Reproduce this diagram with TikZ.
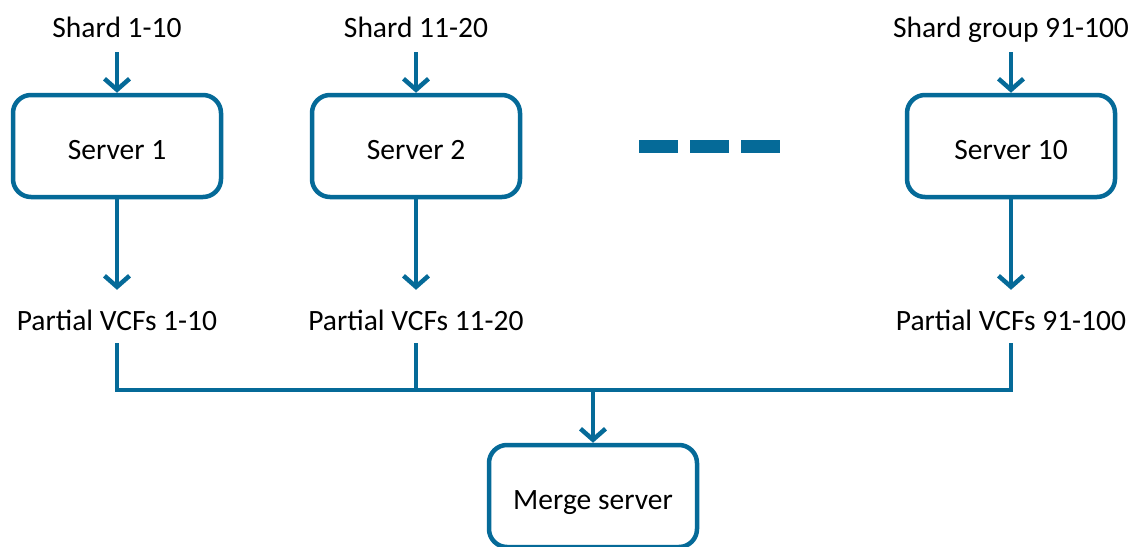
\documentclass[tikz,border=0pt]{standalone}
\usepackage{fontspec}
\setmainfont{Carlito}
\usetikzlibrary{arrows.meta}
\definecolor{bl}{RGB}{5,106,152}
\begin{document}
\begin{tikzpicture}[x=1pt,y=-1pt,
  box/.style={draw=bl, line width=4.5pt, rounded corners=18pt, minimum width=208pt, minimum height=102pt, inner sep=0pt, text height=27pt, text depth=0pt, font=\fontsize{29.5}{35}\selectfont},
  lbl/.style={inner sep=0pt, anchor=base, text height=22pt, text depth=7pt, font=\fontsize{29.5}{35}\selectfont},
  wire/.style={draw=bl, line width=4.5pt, line join=miter},
  conn/.style={wire, -{Straight Barb[length=11pt,width=25pt,line width=4.5pt]}}
]
\useasboundingbox (0,0) rectangle (1132,546);
% top labels
\node[lbl] (s1) at (117,37) {Shard 1-10};
\node[lbl] (s2) at (416,37) {Shard 11-20};
\node[lbl] (s10) at (1011,37) {Shard group 91-100};
% servers
\node[box] (srv1) at (117,146) {Server 1};
\node[box] (srv2) at (416,146) {Server 2};
\node[box] (srv10) at (1011,146) {Server 10};
% partial labels
\node[lbl] (p1) at (117,330) {Partial VCFs 1-10};
\node[lbl] (p2) at (416,330) {Partial VCFs 11-20};
\node[lbl] (p10) at (1011,330) {Partial VCFs 91-100};
% merge
\node[box] (merge) at (593,496) {Merge server};
% dashes
\draw[bl, line width=13pt, dash pattern=on 39pt off 12pt] (639,146.5) -- (780,146.5);
% arrows in
\draw[conn] ([yshift=-8pt]s1.south) -- (srv1.north);
\draw[conn] ([yshift=-8pt]s2.south) -- (srv2.north);
\draw[conn] ([yshift=-8pt]s10.south) -- (srv10.north);
% arrows out
\draw[conn] (srv1.south) -- ([yshift=18pt]p1.north);
\draw[conn] (srv2.south) -- ([yshift=18pt]p2.north);
\draw[conn] (srv10.south) -- ([yshift=18pt]p10.north);
% bus
\coordinate (bus) at (593,390);
\draw[wire] ([yshift=-6pt]p1.south) |- (bus) -| ([yshift=-6pt]p10.south);
\draw[wire] ([yshift=-6pt]p2.south) -- (p2.south |- bus);
\draw[conn] (bus) -- (merge.north);
\end{tikzpicture}
\end{document}
